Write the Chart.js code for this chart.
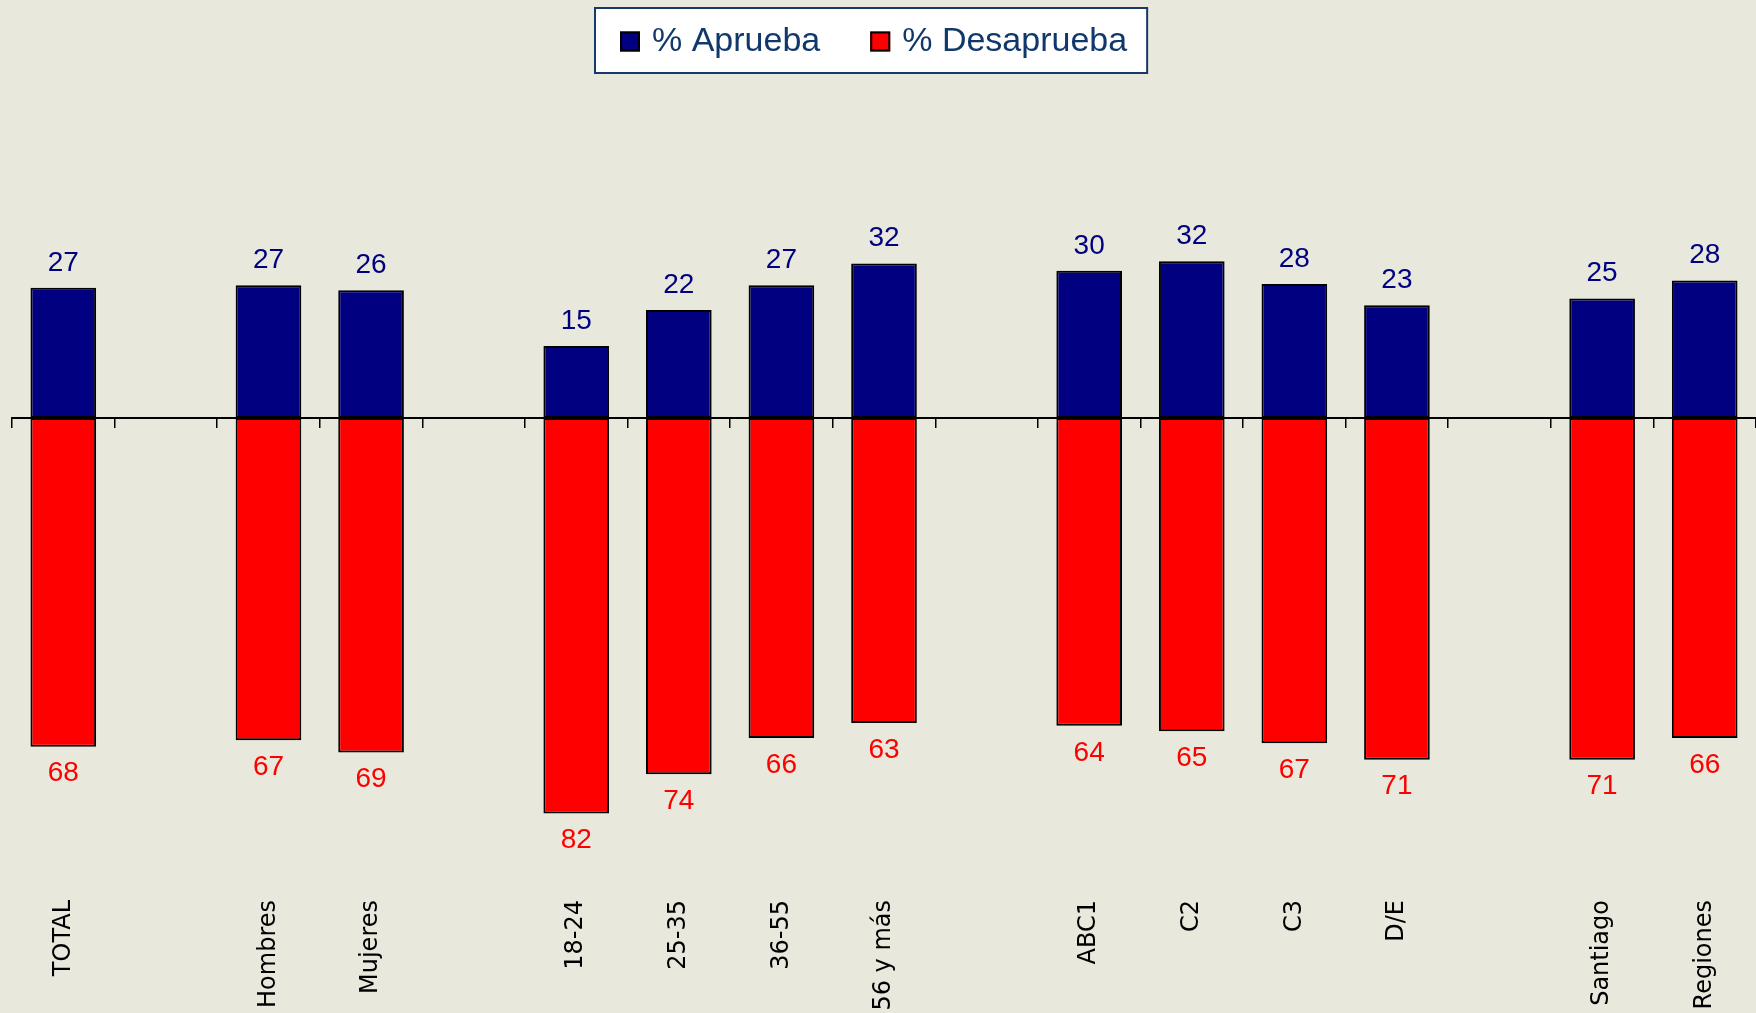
<!DOCTYPE html>
<html>
<head>
<meta charset="utf-8">
<title>Aprueba / Desaprueba</title>
<script src="https://cdn.jsdelivr.net/npm/chart.js@4.4.0/dist/chart.umd.min.js"></script>
<style>
  html, body { margin: 0; padding: 0; background: #e8e8dd; }
  #wrap { width: 1756px; height: 1013px; position: relative; overflow: hidden; }
</style>
</head>
<body>
<div id="wrap"><canvas id="chart"></canvas></div>
<script>
// Categories; empty strings are the gaps between groups
const categories = ['TOTAL', '', 'Hombres', 'Mujeres', '', '18-24', '25-35', '36-55', '56 y más', '', 'ABC1', 'C2', 'C3', 'D/E', '', 'Santiago', 'Regiones'];
// values; labels show them rounded
const aprueba    = [26.9, null, 27.4, 26.4, null, 14.9, 22.3, 27.4, 31.9, null, 30.4, 32.4, 27.7, 23.3, null, 24.7, 28.4];
const desaprueba = [67.9, null, 66.6, 69.1, null, 81.7, 73.6, 66.1, 63.0, null, 63.6, 64.7, 67.2, 70.6, null, 70.6, 66.1];
const seriesNames = ['% Aprueba', '% Desaprueba'];

const NAVY = '#000080';
const RED = '#ff0000';

// Numbers above / below each bar
const valueLabels = {
  id: 'valueLabels',
  afterDatasetsDraw(chart) {
    const ctx = chart.ctx;
    ctx.save();
    ctx.font = '28px "Liberation Sans", Arial, sans-serif';
    ctx.textAlign = 'center';
    ctx.textBaseline = 'middle';
    chart.data.datasets.forEach((ds, i) => {
      const src = i === 0 ? aprueba : desaprueba;
      chart.getDatasetMeta(i).data.forEach((bar, j) => {
        if (src[j] == null) return;
        ctx.fillStyle = i === 0 ? NAVY : RED;
        const y = i === 0 ? bar.y - 25 : bar.y + 27;
        ctx.fillText(String(Math.round(src[j])), bar.x, y);
      });
    });
    ctx.restore();
  }
};

// Framed legend at the top
const boxLegend = {
  id: 'boxLegend',
  afterDraw(chart) {
    const ctx = chart.ctx;
    ctx.save();
    ctx.font = '34px "Liberation Sans", Arial, sans-serif';
    const items = chart.data.datasets.map(ds => ({
      text: ds.label, color: ds.backgroundColor, w: ctx.measureText(ds.label).width
    }));
    const sq = 20, gap = 12, between = 50, padL = 25, padR = 20;
    let total = padL + padR + between * (items.length - 1);
    items.forEach(it => { total += sq + gap + it.w; });
    const top = 8, h = 65, cx = 871;
    const left = Math.round(cx - total / 2);
    ctx.fillStyle = '#ffffff';
    ctx.fillRect(left, top, total, h);
    ctx.strokeStyle = '#17386a';
    ctx.lineWidth = 2;
    ctx.strokeRect(left, top, total, h);

    const midY = top + h / 2 + 1;
    let x = left + padL;
    ctx.textBaseline = 'middle';
    ctx.textAlign = 'left';
    items.forEach(it => {
      ctx.fillStyle = it.color;
      ctx.fillRect(x, midY - sq / 2, sq, sq);
      ctx.strokeStyle = '#000';
      ctx.lineWidth = 2;
      ctx.strokeRect(x + 1, midY - sq / 2 + 1, sq - 2, sq - 2);
      x += sq + gap;
      ctx.fillStyle = '#10386b';
      ctx.fillText(it.text, x, midY);
      x += it.w + between;
    });
    ctx.restore();
  }
};

new Chart(document.getElementById('chart'), {
  type: 'bar',
  data: {
    labels: categories,
    datasets: [
      {
        label: seriesNames[0],
        data: aprueba,
        backgroundColor: NAVY,
        borderColor: '#000',
        borderWidth: 2,
        borderSkipped: false,
      },
      {
        label: seriesNames[1],
        data: desaprueba.map(v => v == null ? null : -v),
        backgroundColor: RED,
        borderColor: '#000',
        borderWidth: 2,
        borderSkipped: false,
      }
    ]
  },
  options: {
    responsive: true,
    maintainAspectRatio: false,
    animation: false,
    layout: { padding: { top: 130, left: 12, right: 0, bottom: 0 } },
    datasets: { bar: { barPercentage: 0.64, categoryPercentage: 1 } },
    plugins: {
      legend: { display: false },
      tooltip: { enabled: false }
    },
    scales: {
      x: {
        stacked: true,
        grid: { display: false, drawTicks: false },
        border: { display: false },
        ticks: {
          autoSkip: false,
          minRotation: 90,
          maxRotation: 90,
          padding: 8,
          color: '#000',
          font: { family: '"DejaVu Sans", Verdana, sans-serif', size: 24 }
        },
        afterFit(scale) { scale.height = 121; }
      },
      // zero line with tick marks between the categories
      x2: {
        type: 'category',
        axis: 'x',
        labels: categories,
        position: { y: 0 },
        offset: true,
        grid: {
          display: true,
          drawOnChartArea: false,
          drawTicks: true,
          tickLength: 9,
          offset: true,
          color: '#000',
          lineWidth: 1.5
        },
        border: { display: true, color: '#000', width: 2 },
        ticks: { display: false }
      },
      y: {
        stacked: true,
        display: false,
        min: -97.93,
        max: 59.5
      }
    }
  },
  plugins: [valueLabels, boxLegend]
});
</script>
</body>
</html>
